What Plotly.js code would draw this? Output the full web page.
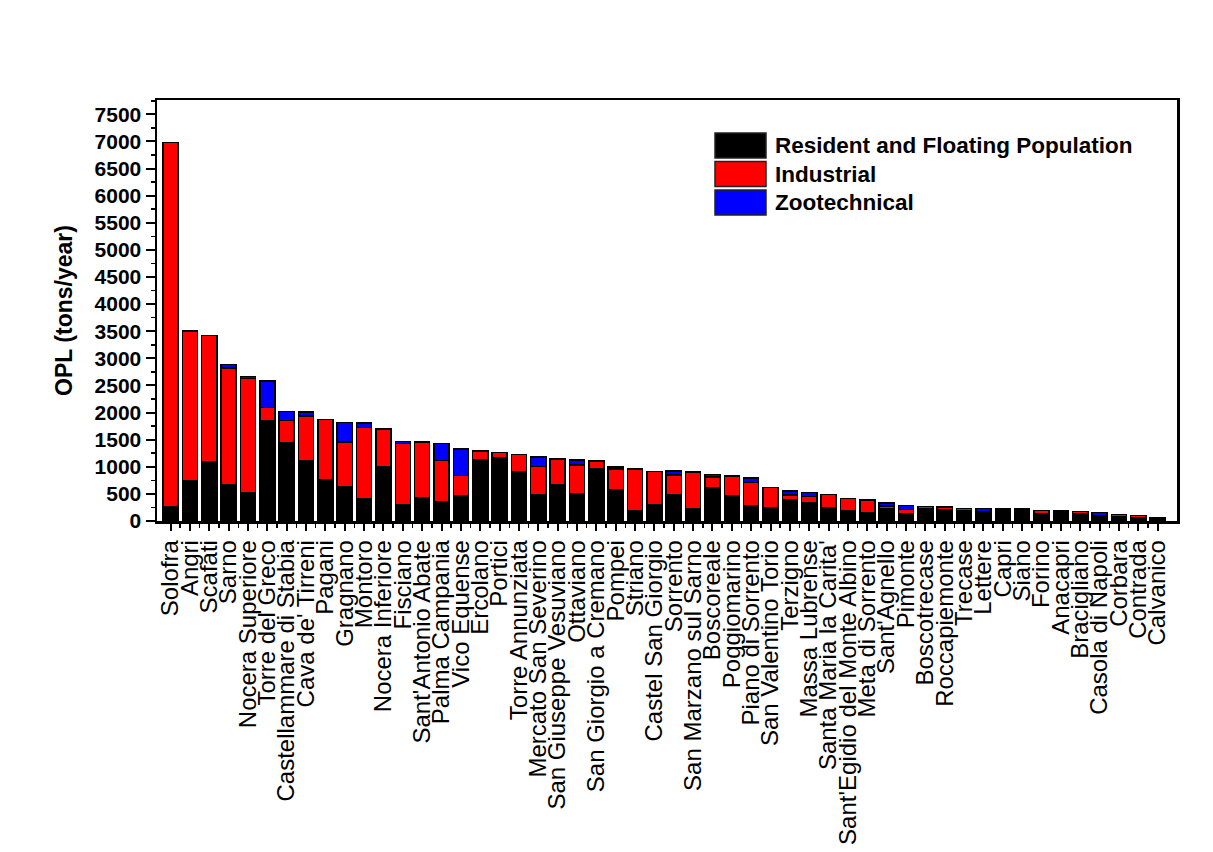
<!DOCTYPE html>
<html>
<head>
<meta charset="utf-8">
<script src="https://cdn.plot.ly/plotly-3.0.1.min.js"></script>
<style>html,body{margin:0;padding:0;background:#fff;}#chart{width:1213px;height:852px;}</style>
</head>
<body>
<div id="chart"></div>
<script>
var categories = ["Solofra","Angri","Scafati","Sarno","Nocera Superiore","Torre del Greco","Castellammare di Stabia","Cava de' Tirreni","Pagani","Gragnano","Montoro","Nocera Inferiore","Fisciano","Sant'Antonio Abate","Palma Campania","Vico Equense","Ercolano","Portici","Torre Annunziata","Mercato San Severino","San Giuseppe Vesuviano","Ottaviano","San Giorgio a Cremano","Pompei","Striano","Castel San Giorgio","Sorrento","San Marzano sul Sarno","Boscoreale","Poggiomarino","Piano di Sorrento","San Valentino Torio","Terzigno","Massa Lubrense","Santa Maria la Carita'","Sant'Egidio del Monte Albino","Meta di Sorrento","Sant'Agnello","Pimonte","Boscotrecase","Roccapiemonte","Trecase","Lettere","Capri","Siano","Forino","Anacapri","Bracigliano","Casola di Napoli","Corbara","Contrada","Calvanico"];
var resident = [270,740,1090,670,530,1840,1450,1120,770,630,410,1000,300,425,350,460,1135,1175,910,490,665,505,955,580,180,295,490,230,610,460,290,240,395,330,240,185,160,220,125,220,200,195,130,180,222,125,175,125,105,70,65,55];
var industrial = [6710,2760,2330,2150,2100,250,400,820,1100,830,1310,700,1130,1030,770,380,160,90,315,515,480,530,150,375,780,620,360,670,205,370,420,375,85,120,245,230,225,55,90,45,60,40,35,45,0,70,10,50,0,50,40,0];
var zootechnical = [0,0,0,70,35,490,165,70,0,360,90,0,40,10,310,490,0,0,0,175,0,90,0,45,0,0,75,0,45,0,80,0,70,75,0,0,0,55,70,0,0,0,65,0,0,0,0,0,55,0,0,0];
var seriesNames = ["Resident and Floating Population","Industrial","Zootechnical"];
var seriesColors = ["#000000","#ff0000","#0000ff"];
var yTitle = "OPL (tons/year)";

var idx = categories.map(function(_, i){ return i; });
var halfIdx = categories.slice(1).map(function(_, i){ return i + 0.5; });
var seriesValues = [resident, industrial, zootechnical];

var traces = seriesValues.map(function(vals, k){
  return {
    type: 'bar', x: idx, y: vals, name: seriesNames[k],
    width: 0.78,
    marker: {color: seriesColors[k], line: {color: '#000', width: 1.5}},
    showlegend: false, hoverinfo: 'x+y+name'
  };
});

var FONT = "Liberation Sans, Arial, sans-serif";
var shapes = [], annotations = [];
var L = 157, R = 1177, T = 100, B = 520.7;
function px2x(p){ return (p - L) / (R - L); }
function py2y(p){ return (B - p) / (B - T); }
var boxTops = [133, 161.5, 190];
seriesNames.forEach(function(n, k){
  var y0 = boxTops[k], y1 = boxTops[k] + 25;
  shapes.push({type:'rect', xref:'paper', yref:'paper', x0:px2x(715), x1:px2x(766), y0:py2y(y1), y1:py2y(y0),
    fillcolor: seriesColors[k], line:{color:'#222', width:1.5}});
  annotations.push({xref:'paper', yref:'paper', x:px2x(773), y:py2y((y0+y1)/2), xanchor:'left', yanchor:'middle',
    text: n, showarrow:false, font:{family:FONT, size:22.5, color:'#000', weight:700}});
});

var layout = {
  width: 1213, height: 852,
  margin: {l: L, r: 1213 - R, t: T, b: 852 - B, pad: 0},
  paper_bgcolor: '#fff', plot_bgcolor: '#fff',
  barmode: 'stack', bargap: 0.22,
  font: {family: FONT, color: '#000'},
  xaxis: {
    range: [-0.70, 52.0], tickmode: 'array', tickvals: idx, ticktext: categories,
    tickangle: -90, tickfont: {family: FONT, size: 24, color: '#000'},
    ticks: 'outside', ticklen: 7, tickwidth: 2, tickcolor: '#000',
    minor: {tickmode: 'array', tickvals: halfIdx, ticks: 'outside', ticklen: 4, tickwidth: 1.5, tickcolor: '#000'},
    showline: true, linecolor: '#000', linewidth: 2.5, mirror: true,
    showgrid: false, zeroline: false, automargin: false, fixedrange: true
  },
  yaxis: {
    range: [0, 7764], dtick: 500, tick0: 0,
    tickfont: {family: FONT, size: 21, color: '#000', weight: 700},
    ticks: 'outside', ticklen: 9, tickwidth: 2, tickcolor: '#000',
    minor: {dtick: 250, ticks: 'outside', ticklen: 4, tickwidth: 1.5, tickcolor: '#000'},
    showline: true, linecolor: '#000', linewidth: 2.5, mirror: true,
    showgrid: false, zeroline: false, automargin: false,
    title: {text: yTitle, font: {family: FONT, size: 23, color: '#000', weight: 700}, standoff: 16},
    fixedrange: true
  },
  shapes: shapes, annotations: annotations
};

Plotly.newPlot('chart', traces, layout, {displayModeBar: false, staticPlot: true});
</script>
</body>
</html>
